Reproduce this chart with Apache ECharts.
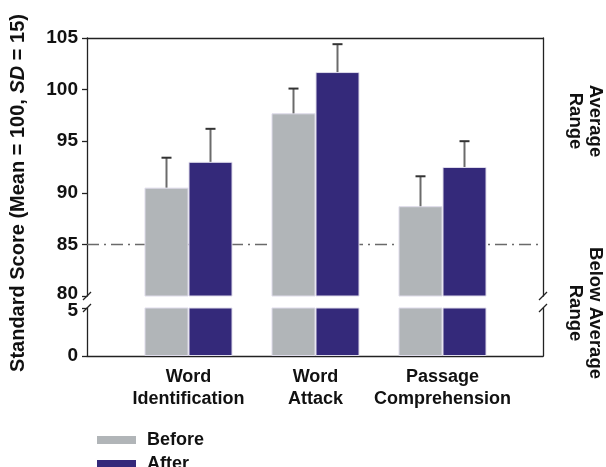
<!DOCTYPE html>
<html>
<head>
<meta charset="utf-8">
<script src="https://cdn.jsdelivr.net/npm/echarts@6/dist/echarts.min.js"></script>
<style>
  html, body { margin: 0; padding: 0; background: #ffffff; }
  #chart { width: 606px; height: 467px; }
</style>
</head>
<body>
<div id="chart"></div>
<script>
// Data
const categories = ['Word\nIdentification', 'Word\nAttack', 'Passage\nComprehension'];
const seriesNames = ['Before', 'After'];
const beforeScores = [90.5, 97.7, 88.7];
const afterScores = [93.0, 101.7, 92.5];
const beforeErr = [2.9, 2.4, 2.9];
const afterErr = [3.2, 2.7, 2.5];
const cutoff = 85;
const upperRange = [80, 105];
const lowerRange = [0, 5];
const tickStep = 5;

// Look
const font = 'Liberation Sans, Arial, sans-serif';
const grayBar = '#b1b5b8';
const purpleBar = '#34297a';
const axisColor = '#222222';
const barWidth = 44;

// Layout (frame vs. bar area)
const frameLeft = 87, frameRight = 63;
const barLeft = 125, barRight = 100;
const upperTop = 38, upperHeight = 258;
const lowerTop = 308, lowerHeight = 48;

const chart = echarts.init(document.getElementById('chart'));

const axisLineStyle = { show: true, lineStyle: { color: axisColor, width: 1.3 } };

const frameX = (gridIndex, position) => ({
  type: 'value', gridIndex, position, min: 0, max: 1,
  axisLine: axisLineStyle, axisTick: { show: false },
  axisLabel: { show: false }, splitLine: { show: false }
});

// the two labels next to the break are nudged apart
const frameY = (gridIndex, range, position, labels) => ({
  type: 'value', gridIndex, position, min: range[0], max: range[1], interval: tickStep,
  axisLine: axisLineStyle,
  axisTick: { show: labels, length: 5, lineStyle: { color: axisColor, width: 1.3 } },
  axisLabel: {
    show: labels, color: '#111', fontFamily: font, fontWeight: 'bold', fontSize: 19, margin: 9,
    formatter: v => (v === upperRange[0] ? '{up|' + v + '}' : v === lowerRange[1] ? '{dn|' + v + '}' : '' + v),
    rich: {
      up: { fontFamily: font, fontWeight: 'bold', fontSize: 19, color: '#111', padding: [0, 0, 4, 0] },
      dn: { fontFamily: font, fontWeight: 'bold', fontSize: 19, color: '#111', padding: [6, 0, 0, 0] }
    }
  },
  splitLine: { show: false }
});

const errorSeries = (name, scores, errs, side) => ({
  name: name + ' SD',
  type: 'custom',
  xAxisIndex: 4, yAxisIndex: 6,
  z: 4,
  data: scores.map((v, i) => [i, v, v + errs[i]]),
  renderItem: (params, api) => {
    const base = api.coord([api.value(0), api.value(1)]);
    const top = api.coord([api.value(0), api.value(2)]);
    const x = base[0] + side * barWidth / 2;
    return {
      type: 'group',
      children: [
        { type: 'line', shape: { x1: x, y1: base[1], x2: x, y2: top[1] },
          style: { stroke: '#6b6b6b', lineWidth: 2 } },
        { type: 'line', shape: { x1: x - 5, y1: top[1], x2: x + 5, y2: top[1] },
          style: { stroke: '#333333', lineWidth: 2 } }
      ]
    };
  }
});

const barSeries = (name, scores, color, xi, yi) => ({
  name, type: 'bar', xAxisIndex: xi, yAxisIndex: yi,
  data: scores, barWidth, barGap: '0%', clip: true, z: 3,
  itemStyle: { color, borderColor: '#dedbea', borderWidth: 1 }
});

const breakMark = (x, y) => ({
  type: 'line', z: 10,
  shape: { x1: x - 4, y1: y + 4, x2: x + 4, y2: y - 4 },
  style: { stroke: axisColor, lineWidth: 1.3 }
});

const sideLabel = (text, y) => ({
  type: 'text', x: 585, y, rotation: -Math.PI / 2,
  style: {
    text, align: 'center', verticalAlign: 'middle',
    fontFamily: font, fontWeight: 'bold', fontSize: 18.5, lineHeight: 20, fill: '#111'
  }
});

const option = {
  animation: false,
  grid: [
    { left: frameLeft, right: frameRight, top: upperTop, height: upperHeight },
    { left: frameLeft, right: frameRight, top: lowerTop, height: lowerHeight },
    { left: barLeft, right: barRight, top: upperTop, height: upperHeight },
    { left: barLeft, right: barRight, top: lowerTop, height: lowerHeight }
  ],
  xAxis: [
    frameX(0, 'top'),
    frameX(1, 'bottom'),
    { type: 'category', gridIndex: 2, data: categories, show: false },
    {
      type: 'category', gridIndex: 3, data: categories,
      axisLine: { show: false }, axisTick: { show: false },
      axisLabel: {
        color: '#111', fontFamily: font, fontWeight: 'bold', fontSize: 18,
        lineHeight: 22, margin: 10, interval: 0
      }
    },
    { type: 'category', gridIndex: 2, data: categories, show: false }
  ],
  yAxis: [
    frameY(0, upperRange, 'left', true),
    frameY(0, upperRange, 'right', false),
    frameY(1, lowerRange, 'left', true),
    frameY(1, lowerRange, 'right', false),
    { type: 'value', gridIndex: 2, min: upperRange[0], max: upperRange[1], show: false },
    { type: 'value', gridIndex: 3, min: lowerRange[0], max: lowerRange[1], show: false },
    { type: 'value', gridIndex: 2, min: upperRange[0], max: upperRange[1], show: false }
  ],
  legend: {
    data: seriesNames,
    orient: 'vertical',
    left: 97, top: 431, height: 44,
    padding: 0,
    icon: 'rect',
    itemWidth: 39, itemHeight: 8, itemGap: 6,
    itemStyle: { borderWidth: 0 },
    textStyle: {
      color: '#111', fontFamily: font, fontWeight: 'bold', fontSize: 18,
      lineHeight: 16, padding: [0, 0, 0, 6]
    }
  },
  series: [
    {
      name: 'cutoff', type: 'line', xAxisIndex: 0, yAxisIndex: 0, z: 1,
      data: [[0, cutoff], [1, cutoff]],
      symbol: 'none',
      lineStyle: { color: '#6a6a6a', width: 1.5, type: [12, 5, 2, 5] }
    },
    barSeries('Before', beforeScores, grayBar, 2, 4),
    barSeries('After', afterScores, purpleBar, 2, 4),
    barSeries('Before', beforeScores, grayBar, 3, 5),
    barSeries('After', afterScores, purpleBar, 3, 5),
    errorSeries('Before', beforeScores, beforeErr, -1),
    errorSeries('After', afterScores, afterErr, 1)
  ],
  graphic: [
    breakMark(frameLeft, upperTop + upperHeight),
    breakMark(frameLeft, lowerTop),
    breakMark(606 - frameRight, upperTop + upperHeight),
    breakMark(606 - frameRight, lowerTop),
    {
      type: 'text', x: 18, y: 193, rotation: Math.PI / 2,
      style: {
        text: '{b|Standard Score (Mean = 100, }{i|SD}{b| = 15)}',
        align: 'center', verticalAlign: 'middle',
        rich: {
          b: { fontFamily: font, fontWeight: 'bold', fontSize: 20, fill: '#111' },
          i: { fontFamily: font, fontWeight: 'bold', fontStyle: 'italic', fontSize: 20, fill: '#111' }
        }
      }
    },
    sideLabel('Average\nRange', 121),
    sideLabel('Below Average\nRange', 313)
  ]
};

chart.setOption(option);
</script>
</body>
</html>
